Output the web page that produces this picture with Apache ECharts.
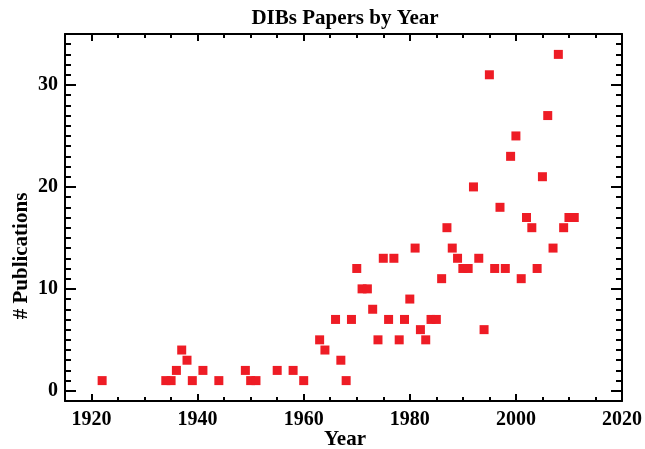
<!DOCTYPE html>
<html>
<head>
<meta charset="utf-8">
<script src="https://cdn.jsdelivr.net/npm/echarts@6/dist/echarts.min.js"></script>
<style>html,body{margin:0;padding:0;background:#fff;}#c{width:645px;height:449px;}</style>
</head>
<body>
<div id="c"></div>
<script>
var years  = [1922,1934,1935,1936,1937,1938,1939,1941,1944,1949,1950,1951,1955,1958,1960,1963,1964,1966,1967,1968,1969,1970,1971,1972,1973,1974,1975,1976,1977,1978,1979,1980,1981,1982,1983,1984,1985,1986,1987,1988,1989,1990,1991,1992,1993,1994,1995,1996,1997,1998,1999,2000,2001,2002,2003,2004,2005,2006,2007,2008,2009,2010,2011];
var counts = [1,1,1,2,4,3,1,2,1,2,1,1,2,2,1,5,4,7,3,1,7,12,10,10,8,5,13,7,13,5,7,9,14,6,5,7,7,11,16,14,13,12,12,20,13,6,31,12,18,12,23,25,11,17,16,12,21,27,14,33,16,17,17];
var xMajor = [1920,1940,1960,1980,2000,2020];
var xMinor = [1920,1925,1930,1935,1940,1945,1950,1955,1960,1965,1970,1975,1980,1985,1990,1995,2000,2005,2010,2015];
var yMajor = [0,10,20,30];
var yMinor = [0,1,2,3,4,5,6,7,8,9,10,11,12,13,14,15,16,17,18,19,20,21,22,23,24,25,26,27,28,29,30,31,32,33,34];

var FONT = '"Liberation Serif", "Times New Roman", serif';
var pts = years.map(function(y,i){return [y, counts[i]];});
function plain(v){ return String(Math.round(v)); }

function xAx(pos, ticks, len, labels, line){
  return {
    type:'value', min:1915, max:2020, position:pos,
    axisLine:{show:line, onZero:false, lineStyle:{color:'#000', width:2}},
    axisTick:{show:true, inside:true, length:len, customValues:ticks, lineStyle:{color:'#000', width:2}},
    axisLabel:{show:labels, customValues:xMajor, formatter:plain, color:'#000', fontFamily:FONT, fontWeight:'bold', fontSize:20, margin:9},
    splitLine:{show:false}
  };
}
function yAx(pos, ticks, len, labels, line){
  return {
    type:'value', min:-1, max:35, position:pos,
    axisLine:{show:line, onZero:false, lineStyle:{color:'#000', width:2}},
    axisTick:{show:true, inside:true, length:len, customValues:ticks, lineStyle:{color:'#000', width:2}},
    axisLabel:{show:labels, customValues:yMajor, formatter:plain, color:'#000', fontFamily:FONT, fontWeight:'bold', fontSize:20, margin:7},
    splitLine:{show:false}
  };
}

var chart = echarts.init(document.getElementById('c'), null, {renderer:'canvas'});
chart.setOption({
  backgroundColor:'#fff',
  animation:false,
  grid:{left:65, right:19, top:34, bottom:48, containLabel:false},
  xAxis:[
    xAx('bottom', xMajor, 7, true, true),
    xAx('bottom', xMinor, 4, false, false),
    xAx('top', xMajor, 7, false, true),
    xAx('top', xMinor, 4, false, false)
  ],
  yAxis:[
    yAx('left', yMajor, 11, true, true),
    yAx('left', yMinor, 6, false, false),
    yAx('right', yMajor, 11, false, true),
    yAx('right', yMinor, 6, false, false)
  ],
  graphic:[
    {type:'text', x:345, y:19, style:{text:'DIBs Papers by Year', font:'bold 21px ' + FONT, fill:'#000', align:'center', verticalAlign:'middle'}},
    {type:'text', x:345, y:440, style:{text:'Year', font:'bold 21px ' + FONT, fill:'#000', align:'center', verticalAlign:'middle'}},
    {type:'text', x:22, y:256, rotation:Math.PI/2, style:{text:'# Publications', font:'bold 21px ' + FONT, fill:'#000', align:'center', verticalAlign:'middle'}}
  ],
  series:[{
    type:'scatter', xAxisIndex:0, yAxisIndex:0,
    symbol:'rect', symbolSize:9,
    itemStyle:{color:'#EE1C25', opacity:1},
    data:pts
  }]
});
</script>
</body>
</html>
